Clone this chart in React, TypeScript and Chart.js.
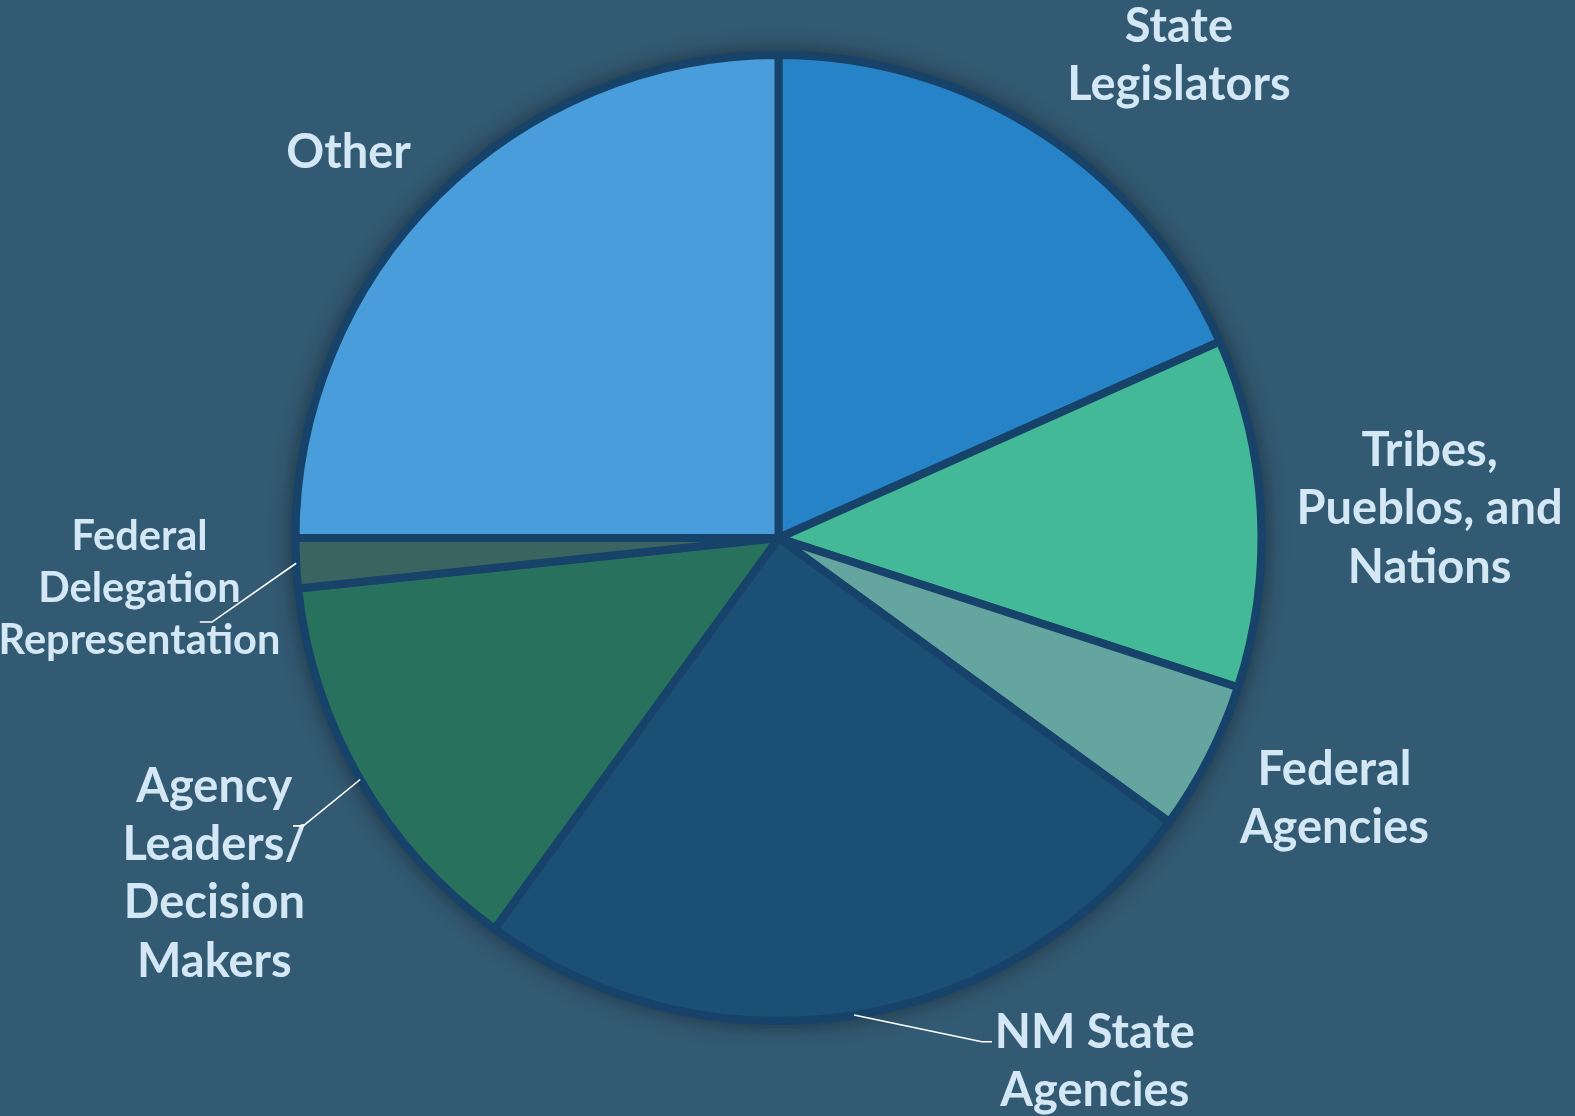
import React, { useEffect, useRef } from 'react';
import { Chart, registerables } from 'chart.js';

Chart.register(...registerables);

// ---- data ----
const categories = [
  'State Legislators',
  'Tribes, Pueblos, and Nations',
  'Federal Agencies',
  'NM State Agencies',
  'Agency Leaders/ Decision Makers',
  'Federal Delegation Representation',
  'Other',
];
const labelLines = [
  ['State', 'Legislators'],
  ['Tribes,', 'Pueblos, and', 'Nations'],
  ['Federal', 'Agencies'],
  ['NM State', 'Agencies'],
  ['Agency', 'Leaders/', 'Decision', 'Makers'],
  ['Federal', 'Delegation', 'Representation'],
  ['Other'],
];
const counts = [11, 7, 3, 15, 8, 1, 15];

// ---- styles ----
const sliceColors = ['#2783C7', '#43B998', '#65A59F', '#1B4F75', '#28725D', '#3A645F', '#4A9DDB'];
const BG = '#335A73';
const BORDER = '#17436A';
const TEXT = '#D3E7F5';
const FONT = 'Lato, "Open Sans", sans-serif';

// label layout in units of pie radius relative to centre: [dx, dyFirstBaseline, fontSize, lineHeight]
const labelLayout: [number, number, number, number][] = [
  [0.829, -1.027, 47, 58.3],
  [1.348, -0.149, 47, 58.3],
  [1.151, 0.511, 47, 58.3],
  [0.655, 1.056, 47, 58.3],
  [-1.168, 0.546, 47, 58.3],
  [-1.323, 0.025, 41.5, 52],
];
// "Other" layout
const otherLayout: [number, number, number, number] = [-0.89, -0.766, 47, 58.3];
// leader lines: index -> [elbowDx, elbowDy, endDx, endDy] in radius units
const leaders: Record<number, [number, number, number, number]> = {
  5: [-1.173, 0.174, -1.198, 0.174],
  4: [-0.984, 0.596, -1.005, 0.596],
  3: [0.421, 1.043, 0.442, 1.043],
};

const shadowPlugin = {
  id: 'pieShadow',
  beforeDatasetsDraw(chart: any) {
    const arc = chart.getDatasetMeta(0).data[0];
    if (!arc) return;
    const { x, y, outerRadius } = arc.getProps(['x', 'y', 'outerRadius'], true);
    const ctx = chart.ctx;
    ctx.save();
    ctx.shadowColor = 'rgba(0,0,0,0.45)';
    ctx.shadowBlur = 22;
    ctx.fillStyle = BORDER;
    ctx.beginPath();
    ctx.arc(x, y, outerRadius + 4, 0, Math.PI * 2);
    ctx.fill();
    ctx.restore();
  },
};

const labelPlugin = {
  id: 'outerLabels',
  afterDatasetsDraw(chart: any) {
    const meta = chart.getDatasetMeta(0);
    const ctx = chart.ctx;
    const first = meta.data[0];
    const { x: cx, y: cy, outerRadius: r } = first.getProps(['x', 'y', 'outerRadius'], true);
    ctx.save();
    ctx.textAlign = 'center';
    ctx.textBaseline = 'alphabetic';
    ctx.fillStyle = TEXT;
    labelLines.forEach((lines, i) => {
      const lay = i < labelLayout.length ? labelLayout[i] : otherLayout;
      const [dx, dy, fs, lh] = lay;
      ctx.font = `bold ${fs}px ${FONT}`;
      lines.forEach((ln, j) => {
        ctx.fillText(ln, cx + dx * r, cy + dy * r + j * lh);
      });
    });
    // leader lines
    ctx.strokeStyle = '#FFFFFF';
    ctx.lineWidth = 1.6;
    Object.keys(leaders).forEach((k) => {
      const i = Number(k);
      const a = meta.data[i];
      const { startAngle, endAngle } = a.getProps(['startAngle', 'endAngle'], true);
      const mid = (startAngle + endAngle) / 2;
      const [ex, ey, tx, ty] = leaders[i];
      ctx.beginPath();
      ctx.moveTo(cx + Math.cos(mid) * r, cy + Math.sin(mid) * r);
      ctx.lineTo(cx + ex * r, cy + ey * r);
      ctx.lineTo(cx + tx * r, cy + ty * r);
      ctx.stroke();
    });
    ctx.restore();
  },
};

export default function App() {
  const ref = useRef<HTMLCanvasElement | null>(null);
  useEffect(() => {
    document.body.style.margin = '0';
    document.body.style.background = BG;
    if (!ref.current) return;
    const chart = new Chart(ref.current, {
      type: 'pie',
      data: {
        labels: categories,
        datasets: [
          {
            data: counts,
            backgroundColor: sliceColors,
            borderColor: BORDER,
            borderWidth: 8,
          },
        ],
      },
      options: {
        responsive: false,
        animation: false,
        radius: 483,
        layout: { padding: { left: 0, right: 18, top: 0, bottom: 40 } },
        plugins: {
          legend: { display: false },
          tooltip: { enabled: false },
        },
      } as any,
      plugins: [shadowPlugin, labelPlugin],
    });
    return () => chart.destroy();
  }, []);
  return (
    <div style={{ position: 'fixed', left: 0, top: 0, width: 1575, height: 1116, background: BG }}>
      <canvas ref={ref} width={1575} height={1116} style={{ width: 1575, height: 1116 }} />
    </div>
  );
}
